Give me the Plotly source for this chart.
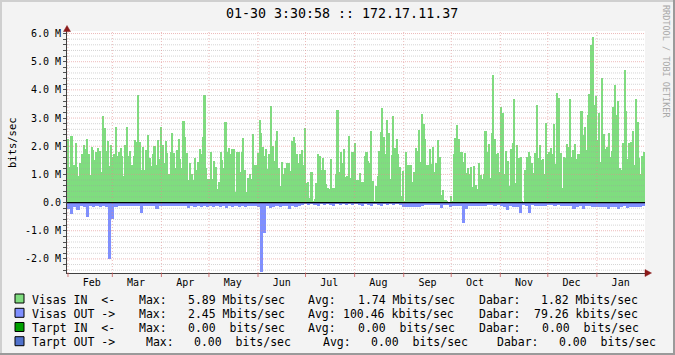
import plotly.graph_objects as go
import pandas as pd

# ---------------- DATA ----------------
# Incoming traffic (Mbits/sec), read day by day, in four consecutive stretches of time
seg_bounds = ["2010-01-31 09:00", "2010-05-02 22:00", "2010-08-03 03:00",
              "2010-11-03 08:00", "2011-01-31 09:00"]

in_s1 = [2.27, 1.27, 2.37, 2.37, 1.35, 2.10, 1.27, 0.94, 1.39, 1.74,
         2.03, 1.89, 2.24, 1.74, 0.97, 1.96, 1.86, 1.50, 1.79, 1.95,
         1.84, 1.08, 3.06, 2.63, 1.84, 2.18, 1.29, 2.03, 1.60, 1.74,
         2.67, 1.67, 1.79, 1.92, 1.67, 0.94, 2.06, 2.67, 1.65, 1.83,
         1.35, 1.67, 2.23, 2.16, 3.81, 2.16, 1.17, 1.96, 1.15, 1.86,
         2.41, 1.57, 1.29, 1.71, 2.00, 1.32, 2.23, 1.55, 2.67, 2.03,
         1.39, 2.17, 1.77, 1.02, 1.79, 2.48, 1.77, 1.22, 1.87, 2.24,
         1.53, 1.22, 2.88, 2.31, 1.77, 0.79, 1.39, 1.01, 0.79, 1.59,
         1.17, 1.44, 1.89, 1.74, 2.31, 3.81, 1.22, 0.84, 0.82, 1.79]

in_s2 = [0.82, 1.48, 1.27, 0.49, 0.72, 1.79, 1.50, 1.21, 2.85, 1.81,
         1.93, 1.74, 1.89, 1.89, 0.38, 1.81, 1.81, 1.10, 1.79, 2.30,
         1.17, 0.37, 0.88, 1.02, 0.85, 2.42, 1.32, 1.32, 1.76, 2.92,
         2.46, 1.98, 1.64, 1.89, 1.20, 1.72, 3.42, 2.00, 1.46, 2.19,
         2.53, 1.22, 0.59, 1.44, 1.03, 1.21, 1.39, 1.40, 1.12, 2.17,
         2.34, 2.12, 1.72, 1.41, 1.74, 1.86, 1.32, 2.65, 0.70, 0.72,
         0.15, 1.10, 0.06, 0.12, 0.68, 1.74, 1.65, 1.17, 1.58, 1.15,
         0.65, 0.53, 0.47, 1.53, 0.52, 0.51, 1.03, 3.29, 1.10, 1.78,
         1.41, 1.89, 0.91, 0.96, 2.38, 0.87, 1.79, 1.79, 2.10, 0.79]

in_s3 = [0.79, 1.06, 0.74, 0.72, 1.64, 1.79, 1.46, 1.41, 2.53, 0.75,
         0.05, 0.60, 0.94, 1.84, 2.50, 3.36, 2.34, 1.72, 2.92, 2.46,
         0.82, 1.70, 3.06, 1.92, 2.24, 1.74, 1.28, 0.23, 1.12, 0.05,
         1.78, 1.32, 1.32, 1.32, 0.72, 1.10, 1.92, 1.84, 2.56, 1.44,
         3.13, 2.79, 2.27, 1.32, 1.34, 1.89, 1.36, 1.98, 1.08, 1.41,
         2.21, 1.63, 0.28, 0.46, 0.09, 0.08, 0.06, 0.01, 0.25, 0.06,
         1.74, 2.28, 2.74, 2.24, 1.79, 1.79, 1.44, 1.76, 1.04, 1.22,
         1.02, 1.27, 0.56, 1.29, 0.63, 0.49, 1.39, 0.97, 0.82, 1.01,
         2.53, 1.81, 2.08, 0.88, 2.46, 4.52, 2.27, 1.71, 1.76, 1.09,
         3.40, 3.19]

in_s4 = [1.03, 1.84, 1.49, 0.58, 1.89, 2.11, 3.69, 0.68, 2.03, 1.58,
         1.63, 0.04, 0.00, 1.15, 1.60, 1.81, 1.66, 1.41, 1.06, 1.77,
         3.45, 1.59, 2.03, 1.50, 1.53, 1.03, 2.81, 1.74, 1.81, 1.92,
         1.74, 2.79, 1.36, 3.88, 3.70, 1.77, 0.51, 1.60, 1.59, 2.08,
         1.98, 3.67, 1.60, 1.85, 2.08, 1.55, 1.74, 1.74, 3.25, 2.41,
         2.69, 1.86, 3.12, 3.84, 5.59, 5.89, 3.45, 3.78, 2.21, 3.17,
         1.44, 4.42, 2.42, 1.91, 1.99, 2.46, 1.61, 1.84, 3.40, 4.16,
         3.10, 3.59, 1.22, 1.17, 2.12, 4.69, 3.24, 1.53, 2.11, 2.15,
         2.55, 1.33, 3.69, 2.85, 1.58, 1.03, 1.67, 1.81]

# Outgoing traffic (Mbits/sec), two-day steps over the whole year
out_vals = [0.24, 0.41, 0.14, 0.26, 0.13, 0.16, 0.52, 0.13, 0.15, 0.13,
            0.15, 0.13, 0.17, 1.99, 0.59, 0.15, 0.11, 0.13, 0.13, 0.12,
            0.13, 0.11, 0.13, 0.36, 0.13, 0.12, 0.13, 0.11, 0.24, 0.13,
            0.12, 0.11, 0.13, 0.12, 0.11, 0.13, 0.11, 0.12, 0.19, 0.13,
            0.15, 0.12, 0.17, 0.13, 0.15, 0.13, 0.17, 0.13, 0.15, 0.13,
            0.18, 0.13, 0.15, 0.13, 0.17, 0.13, 0.15, 0.13, 0.12, 0.13,
            0.15, 2.45, 1.09, 0.13, 0.21, 0.15, 0.13, 0.15, 0.13, 0.12,
            0.24, 0.13, 0.14, 0.12, 0.07, 0.06, 0.07, 0.06, 0.07, 0.11,
            0.06, 0.08, 0.06, 0.07, 0.11, 0.06, 0.07, 0.06, 0.07, 0.06,
            0.07, 0.06, 0.07, 0.11, 0.06, 0.07, 0.11, 0.06, 0.07, 0.11,
            0.06, 0.07, 0.06, 0.07, 0.06, 0.08, 0.14, 0.16, 0.16, 0.16,
            0.15, 0.14, 0.12, 0.10, 0.09, 0.10, 0.09, 0.10, 0.19, 0.10,
            0.10, 0.14, 0.13, 0.11, 0.12, 0.73, 0.24, 0.12, 0.13, 0.12,
            0.13, 0.13, 0.12, 0.10, 0.10, 0.11, 0.10, 0.11, 0.15, 0.28,
            0.13, 0.15, 0.15, 0.36, 0.10, 0.11, 0.36, 0.10, 0.12, 0.12,
            0.11, 0.12, 0.10, 0.10, 0.11, 0.10, 0.11, 0.11, 0.12, 0.12,
            0.24, 0.15, 0.13, 0.24, 0.13, 0.12, 0.17, 0.17, 0.15, 0.17,
            0.16, 0.24, 0.17, 0.15, 0.22, 0.15, 0.13, 0.21, 0.15, 0.15,
            0.17, 0.15, 0.13]

month_starts = ["2010-02-01", "2010-03-01", "2010-04-01", "2010-05-01", "2010-06-01",
                "2010-07-01", "2010-08-01", "2010-09-01", "2010-10-01", "2010-11-01",
                "2010-12-01", "2011-01-01"]
month_labels = ["Feb", "Mar", "Apr", "May", "Jun", "Jul", "Aug", "Sep", "Oct", "Nov",
                "Dec", "Jan"]

y_major = [-2, -1, 0, 1, 2, 3, 4, 5, 6]
y_major_labels = ["-2.0 M", "-1.0 M", "0.0", "1.0 M", "2.0 M", "3.0 M", "4.0 M", "5.0 M", "6.0 M"]

title_text = "01-30 3:30:58 :: 172.17.11.37"
legend_names = ["Visas IN  <-", "Visas OUT ->", "Tarpt IN  <-", "Tarpt OUT ->"]
legend_max = ["5.89 Mbits/sec", "2.45 Mbits/sec", "0.00  bits/sec", "0.00  bits/sec"]
legend_avg = ["1.74 Mbits/sec", "100.46 kbits/sec", "0.00  bits/sec", "0.00  bits/sec"]
legend_cur = ["1.82 Mbits/sec", "79.26 kbits/sec", "0.00  bits/sec", "0.00  bits/sec"]

# ---------------- STYLE / LAYOUT ----------------
GREEN = "#7FDD7F"
BLUE = "#7F8FFF"
legend_colors = [GREEN, BLUE, "#00A000", "#5072CC"]
FONT = "DejaVu Sans Mono"

W, H = 675, 355
L, R, T, B = 67, 30, 31, 82
PW, PH = W - L - R, H - T - B


def px(x):
    return (x - L) / PW


def py(y):
    return (H - B - y) / PH


# build bars
in_x, in_y, in_w = [], [], []
for k, vals in enumerate([in_s1, in_s2, in_s3, in_s4]):
    t0 = pd.Timestamp(seg_bounds[k])
    t1 = pd.Timestamp(seg_bounds[k + 1])
    step = (t1 - t0) / len(vals)
    for i, v in enumerate(vals):
        in_x.append(t0 + step * (i + 0.5))
        in_y.append(v)
        in_w.append(step.total_seconds() * 1000)

out_x, out_y, out_w = [], [], []
t0 = pd.Timestamp(seg_bounds[0])
t1 = pd.Timestamp(seg_bounds[-1])
step = (t1 - t0) / len(out_vals)
for i, v in enumerate(out_vals):
    out_x.append(t0 + step * (i + 0.5))
    out_y.append(-v)
    out_w.append(step.total_seconds() * 1000)

fig = go.Figure()
fig.add_bar(x=in_x, y=in_y, width=in_w, marker=dict(color=GREEN, line=dict(width=0)),
            showlegend=False, hoverinfo="skip")
fig.add_bar(x=out_x, y=out_y, width=out_w, marker=dict(color=BLUE, line=dict(width=0)),
            showlegend=False, hoverinfo="skip")

shapes = []
# horizontal grid
MINOR = "rgba(160,160,160,0.45)"
MAJOR = "rgba(225,140,140,0.6)"
for j in range(-12, 31):
    val = j * 0.2
    major = (j % 5 == 0)
    shapes.append(dict(type="line", xref="paper", yref="y", x0=0, x1=1, y0=val, y1=val,
                       line=dict(color=MAJOR if major else MINOR, width=1, dash="1px,1px"),
                       layer="above"))
# vertical grid + ticks at month starts
for m in month_starts:
    shapes.append(dict(type="line", xref="x", yref="paper", x0=m, x1=m, y0=0, y1=1,
                       line=dict(color=MAJOR, width=1, dash="1px,2px"), layer="above"))
    shapes.append(dict(type="line", xref="x", yref="paper", x0=m, x1=m, y0=py(H - B + 4), y1=0,
                       line=dict(color="rgba(200,90,90,0.8)", width=1), layer="above"))
# zero line
shapes.append(dict(type="line", xref="paper", yref="y", x0=0, x1=1, y0=0, y1=0,
                   line=dict(color="#000000", width=1.2), layer="above"))
# arrows
ARROW = "#8B1A1A"
shapes.append(dict(type="path", xref="paper", yref="paper",
                   path=f"M {px(645)},{py(269.5)} L {px(651.5)},{py(273)} L {px(645)},{py(276.5)} Z",
                   fillcolor=ARROW, line=dict(color=ARROW, width=0.5), layer="above"))
shapes.append(dict(type="path", xref="paper", yref="paper",
                   path=f"M {px(63.5)},{py(31.5)} L {px(67)},{py(25.5)} L {px(70.5)},{py(31.5)} Z",
                   fillcolor=ARROW, line=dict(color=ARROW, width=0.5), layer="above"))
# frame (3D look)
shapes.append(dict(type="line", xref="paper", yref="paper", x0=px(0), x1=px(W), y0=py(1), y1=py(1),
                   line=dict(color="#CFCFCF", width=2)))
shapes.append(dict(type="line", xref="paper", yref="paper", x0=px(1), x1=px(1), y0=py(0), y1=py(H),
                   line=dict(color="#CFCFCF", width=2)))
shapes.append(dict(type="line", xref="paper", yref="paper", x0=px(0), x1=px(W), y0=py(H - 1), y1=py(H - 1),
                   line=dict(color="#9A9A9A", width=2)))
shapes.append(dict(type="line", xref="paper", yref="paper", x0=px(W - 1), x1=px(W - 1), y0=py(0), y1=py(H),
                   line=dict(color="#9A9A9A", width=2)))

annotations = []
annotations.append(dict(text=title_text, xref="paper", yref="paper", x=px(341.6), y=py(14),
                        xanchor="center", yanchor="middle", showarrow=False,
                        font=dict(family=FONT, size=13.3, color="#000000")))
annotations.append(dict(text="bits/sec", xref="paper", yref="paper", x=px(12), y=py(143),
                        xanchor="center", yanchor="middle", textangle=-90, showarrow=False,
                        font=dict(family=FONT, size=10.5, color="#000000")))
annotations.append(dict(text="RRDTOOL / TOBI OETIKER", xref="paper", yref="paper", x=px(666), y=py(61),
                        xanchor="center", yanchor="middle", textangle=90, showarrow=False,
                        font=dict(family=FONT, size=8.5, color="#A8A8A8")))

row_y = [298.5, 312.8, 327.0, 341.2]
col_x = [
    [31, 137.7, 186.7, 307.3, 356.7, 477.7, 540.0],
    [31, 137.7, 186.7, 307.3, 342.3, 477.7, 533.0],
    [31, 137.7, 186.7, 307.3, 356.7, 477.7, 540.7],
    [31, 145.0, 193.3, 321.7, 370.0, 495.7, 558.3],
]
for r in range(4):
    texts = [legend_names[r], "Max:", legend_max[r], "Avg:", legend_avg[r], "Dabar:", legend_cur[r]]
    for c, t in enumerate(texts):
        annotations.append(dict(text=t.replace(" ", "&nbsp;"), xref="paper", yref="paper",
                                x=px(col_x[r][c] - 1), y=py(row_y[r] + 1),
                                xanchor="left", yanchor="middle", showarrow=False,
                                font=dict(family=FONT, size=11.5, color="#000000")))
    shapes.append(dict(type="rect", xref="paper", yref="paper",
                       x0=px(15), x1=px(24), y0=py(row_y[r] - 4.5), y1=py(row_y[r] + 4.5),
                       fillcolor=legend_colors[r], line=dict(color="#000000", width=1)))

mid_month = [pd.Timestamp(m) + pd.Timedelta(days=15) for m in month_starts]
y_ticks = [j * 0.2 for j in range(-12, 31)]
y_text = []
for v in y_ticks:
    lab = ""
    for mv, ml in zip(y_major, y_major_labels):
        if abs(v - mv) < 1e-9:
            lab = ml
    y_text.append(lab)

fig.update_layout(
    width=W, height=H,
    margin=dict(l=L, r=R, t=T, b=B, pad=0),
    paper_bgcolor="#F3F3F3", plot_bgcolor="#FFFFFF",
    barmode="overlay", bargap=0,
    showlegend=False,
    xaxis=dict(type="date", range=[seg_bounds[0], seg_bounds[-1]], showgrid=False, zeroline=False,
               tickvals=mid_month, ticktext=month_labels, ticks="", showline=True,
               linecolor="#404040", linewidth=1, layer="above traces",
               tickfont=dict(family=FONT, size=10, color="#000000")),
    yaxis=dict(range=[-2.5, 6.09], showgrid=False, zeroline=False, tickvals=y_ticks, ticktext=y_text,
               ticks="outside", ticklen=3, tickcolor="#505050", showline=True, linecolor="#404040",
               linewidth=1, layer="above traces",
               tickfont=dict(family=FONT, size=10, color="#000000")),
    shapes=shapes,
    annotations=annotations,
)

fig.write_html("out.html", config={"displayModeBar": False})
